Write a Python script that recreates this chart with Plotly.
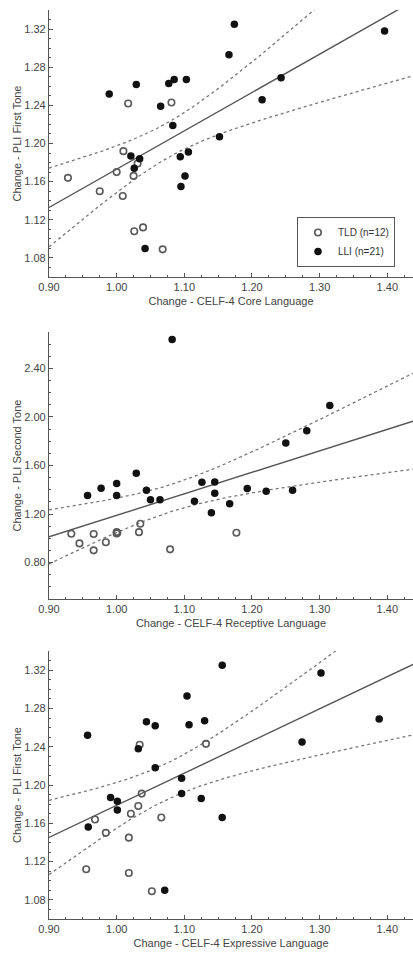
import numpy as np
import plotly.graph_objects as go
from plotly.subplots import make_subplots

# ---------------- data ----------------
# Panel 1: CELF-4 Core Language vs PLI First Tone
p1_tld_x = [0.928, 0.975, 1.000, 1.010, 1.009, 1.017, 1.025, 1.031, 1.026, 1.039, 1.068, 1.081]
p1_tld_y = [1.164, 1.150, 1.170, 1.192, 1.145, 1.242, 1.166, 1.179, 1.108, 1.112, 1.089, 1.243]
p1_lli_x = [0.989, 1.029, 1.021, 1.026, 1.034, 1.042, 1.065, 1.077, 1.085, 1.083, 1.094,
            1.095, 1.101, 1.103, 1.106, 1.152, 1.166, 1.174, 1.215, 1.243, 1.396]
p1_lli_y = [1.252, 1.262, 1.187, 1.174, 1.184, 1.090, 1.239, 1.263, 1.267, 1.219, 1.186,
            1.155, 1.166, 1.267, 1.191, 1.207, 1.293, 1.325, 1.246, 1.269, 1.318]

# Panel 2: CELF-4 Receptive Language vs PLI Second Tone
p2_tld_x = [0.933, 0.945, 0.966, 0.966, 0.984, 1.000, 1.000, 1.001, 1.033, 1.035, 1.079, 1.177]
p2_tld_y = [1.038, 0.958, 1.035, 0.901, 0.967, 1.040, 1.052, 1.046, 1.051, 1.120, 0.909, 1.046]
p2_lli_x = [0.957, 0.977, 1.000, 1.000, 1.029, 1.044, 1.050, 1.064, 1.082, 1.115, 1.126,
            1.140, 1.145, 1.145, 1.167, 1.193, 1.221, 1.250, 1.260, 1.281, 1.315]
p2_lli_y = [1.353, 1.413, 1.451, 1.353, 1.536, 1.396, 1.317, 1.317, 2.638, 1.306, 1.462,
            1.210, 1.465, 1.372, 1.284, 1.410, 1.388, 1.785, 1.396, 1.886, 2.094]

# Panel 3: CELF-4 Expressive Language vs PLI First Tone
p3_tld_x = [0.955, 0.968, 0.984, 1.018, 1.018, 1.021, 1.032, 1.034, 1.037, 1.052, 1.066, 1.132]
p3_tld_y = [1.112, 1.164, 1.150, 1.145, 1.108, 1.170, 1.178, 1.242, 1.191, 1.089, 1.166, 1.243]
p3_lli_x = [0.957, 0.958, 0.991, 1.001, 1.001, 1.032, 1.044, 1.057, 1.057, 1.071, 1.096,
            1.096, 1.104, 1.107, 1.125, 1.130, 1.156, 1.156, 1.274, 1.302, 1.388]
p3_lli_y = [1.252, 1.156, 1.187, 1.183, 1.174, 1.238, 1.266, 1.262, 1.218, 1.090, 1.207,
            1.191, 1.293, 1.263, 1.186, 1.267, 1.325, 1.166, 1.245, 1.317, 1.269]

x_titles = ["Change - CELF-4 Core Language",
            "Change - CELF-4 Receptive Language",
            "Change - CELF-4 Expressive Language"]
y_titles = ["Change - PLI First Tone", "Change - PLI Second Tone", "Change - PLI First Tone"]

panels = [(p1_tld_x, p1_tld_y, p1_lli_x, p1_lli_y),
          (p2_tld_x, p2_tld_y, p2_lli_x, p2_lli_y),
          (p3_tld_x, p3_tld_y, p3_lli_x, p3_lli_y)]

# ---------------- figure ----------------
W, H = 413, 954
fig = make_subplots(rows=3, cols=1)

# panel pixel extents (top, bottom)
pix = [(10, 277), (332, 599), (651, 919)]
XR = [0.90, 1.438]
yranges = [[1.06, 1.34], [0.50, 2.70], [1.06, 1.34]]
ydt = [0.04, 0.4, 0.04]
ymin = [0.01, 0.1, 0.01]

FONT = "Liberation Sans, Arial, sans-serif"
AX = "#555555"
T_CRIT = 2.04  # t(0.975, df=31)

for i, (tx, ty, lx, ly) in enumerate(panels):
    r = i + 1
    first = (i == 0)
    # regression on all points with 95% CI of the mean
    x = np.array(tx + lx); y = np.array(ty + ly)
    n = len(x)
    b, a = np.polyfit(x, y, 1)
    resid = y - (a + b * x)
    s = np.sqrt(np.sum(resid ** 2) / (n - 2))
    xm = x.mean(); sxx = np.sum((x - xm) ** 2)
    xg = np.linspace(XR[0], XR[1], 200)
    yg = a + b * xg
    se = s * np.sqrt(1.0 / n + (xg - xm) ** 2 / sxx)
    for yy in (yg + T_CRIT * se, yg - T_CRIT * se):
        fig.add_trace(go.Scatter(x=xg, y=yy, mode="lines",
                                 line=dict(color="#777777", width=1.3, dash="dot"),
                                 showlegend=False, hoverinfo="skip"), row=r, col=1)
    fig.add_trace(go.Scatter(x=xg, y=yg, mode="lines",
                             line=dict(color="#555555", width=1.4),
                             showlegend=False, hoverinfo="skip"), row=r, col=1)
    fig.add_trace(go.Scatter(x=tx, y=ty, mode="markers", name="TLD (n=12)",
                             legendgroup="tld", showlegend=first,
                             marker=dict(symbol="circle-open", size=6.5, color="#5a5a5a",
                                         line=dict(color="#5a5a5a", width=1.6))),
                  row=r, col=1)
    fig.add_trace(go.Scatter(x=lx, y=ly, mode="markers", name="LLI (n=21)",
                             legendgroup="lli", showlegend=first,
                             marker=dict(symbol="circle", size=7.5, color="#111111")),
                  row=r, col=1)

    top, bot = pix[i]
    xa = "xaxis" if r == 1 else f"xaxis{r}"
    ya = "yaxis" if r == 1 else f"yaxis{r}"
    fig.layout[xa].update(
        domain=[0, 1], range=XR, showgrid=False, zeroline=False,
        showline=True, linecolor=AX, linewidth=1.2,
        ticks="inside", ticklen=4, tickcolor=AX, tickwidth=1,
        tick0=0.9, dtick=0.1, tickformat=".2f",
        minor=dict(ticks="inside", ticklen=2, dtick=0.025, tickcolor=AX, showgrid=False),
        tickfont=dict(size=11, color="#444444", family=FONT),
        title=dict(text=x_titles[i], font=dict(size=11, color="#444444", family=FONT),
                   standoff=5),
    )
    fig.layout[ya].update(
        domain=[1 - bot / H, 1 - top / H], range=yranges[i],
        showgrid=False, zeroline=False,
        showline=True, linecolor=AX, linewidth=1.2,
        ticks="inside", ticklen=4, tickcolor=AX, tickwidth=1,
        tick0=0, dtick=ydt[i], tickformat=".2f",
        minor=dict(ticks="inside", ticklen=2, dtick=ymin[i], tickcolor=AX, showgrid=False),
        tickfont=dict(size=11, color="#444444", family=FONT),
        title=dict(text=y_titles[i], font=dict(size=11, color="#444444", family=FONT),
                   standoff=0),
    )

fig.update_layout(
    width=W, height=H,
    margin=dict(l=49, r=0, t=0, b=0),
    paper_bgcolor="white", plot_bgcolor="white",
    font=dict(family=FONT, size=11, color="#444444"),
    legend=dict(x=(395 - 49) / (W - 49), xanchor="right", y=1 - 267 / H, yanchor="bottom",
                bgcolor="white", bordercolor="#555555", borderwidth=1,
                font=dict(size=10, color="#333333", family=FONT),
                itemwidth=30, tracegroupgap=0),
)

fig.write_html("out.html", config={"displayModeBar": False},
               post_script="document.body.style.margin='0';")
